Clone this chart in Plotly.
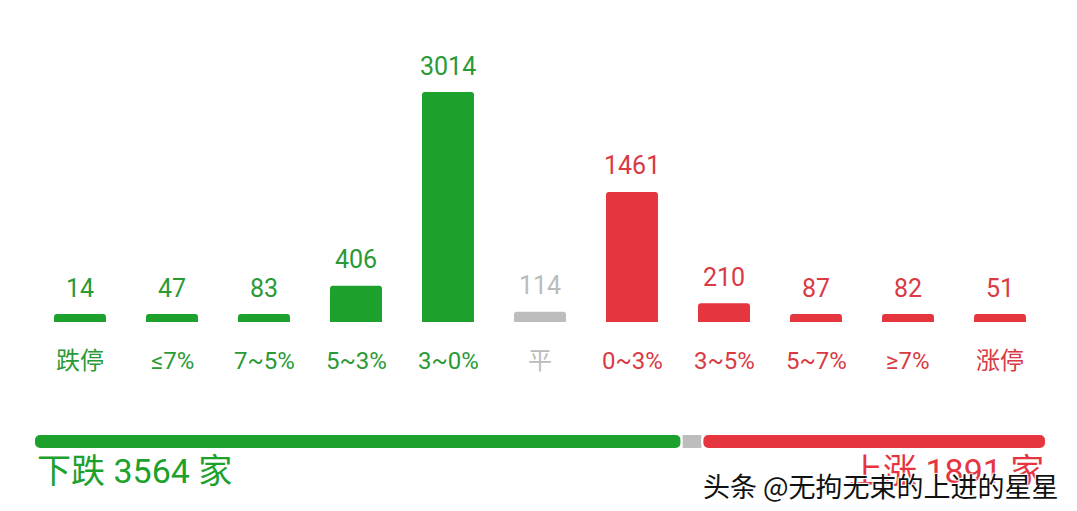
import plotly.graph_objects as go
import numpy as np

categories = ["跌停", "≤7%", "7~5%", "5~3%", "3~0%", "平", "0~3%", "3~5%", "5~7%", "≥7%", "涨停"]
counts = [14, 47, 83, 406, 3014, 114, 1461, 210, 87, 82, 51]
groups = ["down"] * 5 + ["flat"] + ["up"] * 5

GREEN = "#1ba12c"
RED = "#e5363f"
GRAY = "#bdbdbd"
color_map = {"down": GREEN, "flat": GRAY, "up": RED}
text_color_map = {"down": "#2a9a37", "flat": "#bbbbbb", "up": "#d93a44"}

down_total = sum(c for c, g in zip(counts, groups) if g == "down")
flat_total = sum(c for c, g in zip(counts, groups) if g == "flat")
up_total = sum(c for c, g in zip(counts, groups) if g == "up")

W, H = 1077, 511
OFF = 8  # page body margin
FONT = "Roboto, Noto Sans CJK SC, sans-serif"

# rendering rule: bars have a minimum and a capped maximum visible height
PX_PER_UNIT = 0.089
MIN_PX, MAX_PX = 8, 230
disp = np.clip(np.array(counts, dtype=float), MIN_PX / PX_PER_UNIT, MAX_PX / PX_PER_UNIT)

base_px = 322 - OFF
top_domain_bottom = (H - base_px) / H
yrange_top = base_px / PX_PER_UNIT

L = 34 - OFF
R = 1046 - OFF
PW = R - L

def px_x(x):
    return (x - OFF - L) / PW

def px_y(y):
    return (H - (y - OFF)) / H

fig = go.Figure()
fig.add_trace(go.Bar(
    x=categories, y=disp,
    marker=dict(color=[color_map[g] for g in groups], cornerradius=3, line=dict(width=0)),
    width=0.565, xaxis="x", yaxis="y", hoverinfo="skip", showlegend=False,
))

annotations = []
for cat, c, d, g in zip(categories, counts, disp, groups):
    annotations.append(dict(x=cat, y=d, xref="x", yref="y", text=str(c), showarrow=False,
                            yanchor="middle", yshift=26,
                            font=dict(family=FONT, size=25, color=text_color_map[g])))
    annotations.append(dict(x=cat, y=0, xref="x", yref="y", text=cat, showarrow=False,
                            yanchor="middle", yshift=-39,
                            font=dict(family=FONT, size=24, color=text_color_map[g])))

# summary bar (segments placed with cumulative bases, rounded outer ends)
seg_vals = [down_total, flat_total, up_total]
seg_cols = [GREEN, GRAY, RED]
seg_rad = [6, 0, 6]
seg_base = np.concatenate([[0], np.cumsum(seg_vals)[:-1]])
for v, b, col, rad in zip(seg_vals, seg_base, seg_cols, seg_rad):
    fig.add_trace(go.Bar(
        x=[v], y=[0], base=[b], orientation="h", width=1,
        marker=dict(color=col, line=dict(color="white", width=2), cornerradius=rad),
        xaxis="x2", yaxis="y2", hoverinfo="skip", showlegend=False,
    ))

annotations.append(dict(x=px_x(35), y=px_y(471), xref="paper", yref="paper",
                        text=f"下跌 {down_total} 家", showarrow=False, xanchor="left", yanchor="middle",
                        font=dict(family=FONT, size=34, color=GREEN)))
annotations.append(dict(x=px_x(1046), y=px_y(471), xref="paper", yref="paper",
                        text=f"上涨 {up_total} 家", showarrow=False, xanchor="right", yanchor="middle",
                        font=dict(family=FONT, size=34, color=RED)))
annotations.append(dict(x=px_x(1061), y=px_y(485), xref="paper", yref="paper",
                        text="头条 @无拘无束的上进的星星", showarrow=False, xanchor="right", yanchor="middle",
                        font=dict(family="Noto Sans CJK SC, sans-serif", size=27, color="#111111",
                                  shadow="1px 1px 1px white, -1px -1px 1px white, 1px -1px 1px white, -1px 1px 1px white")))

fig.update_layout(
    width=W, height=H,
    margin=dict(l=L, r=W - R, t=0, b=0),
    paper_bgcolor="white", plot_bgcolor="white",
    barmode="overlay",
    xaxis=dict(domain=[0, 1], showticklabels=False, showgrid=False, zeroline=False, showline=False,
               ticks="", fixedrange=True),
    yaxis=dict(domain=[top_domain_bottom, 1], range=[0, yrange_top], showticklabels=False,
               showgrid=False, zeroline=False, showline=False),
    xaxis2=dict(domain=[0, 1], anchor="y2", range=[0, down_total + flat_total + up_total],
                showticklabels=False, showgrid=False, zeroline=False, showline=False),
    yaxis2=dict(domain=[px_y(449), px_y(434)], anchor="x2", range=[-0.5, 0.5],
                showticklabels=False, showgrid=False, zeroline=False, showline=False),
    annotations=annotations,
)

fig.write_html("out.html")
